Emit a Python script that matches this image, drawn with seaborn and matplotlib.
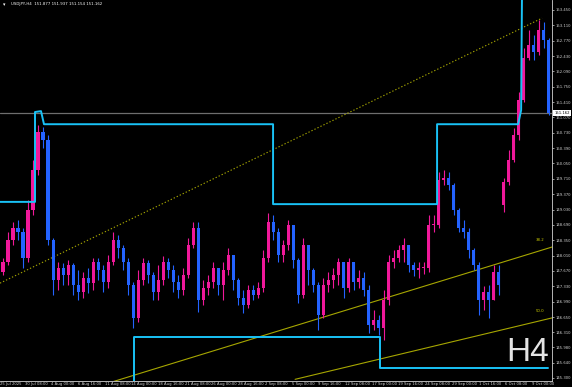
import matplotlib
matplotlib.use("Agg")
import matplotlib.pyplot as plt
import seaborn as sns
import numpy as np

# ---------------- data (USDJPY, H4 chart, aggregated candles) ----------------
closes = [147.87, 148.36, 148.62, 148.53, 147.96, 149.02, 149.91, 150.75, 150.57, 148.36,
          147.47, 147.74, 147.58, 147.80, 147.36, 147.20, 147.51, 147.40, 147.87, 147.69,
          147.43, 147.87, 148.36, 148.18, 147.87, 147.36, 146.63, 147.47, 147.85, 147.58,
          147.20, 147.47, 147.87, 147.69, 147.43, 147.25, 147.58, 148.25, 148.62, 147.03,
          147.29, 147.43, 147.74, 147.36, 147.69, 148.02, 147.47, 147.07, 146.92, 147.25,
          147.14, 147.29, 147.96, 148.75, 148.53, 148.02, 148.25, 148.69, 147.91, 147.14,
          148.25, 147.69, 147.36, 146.69, 147.36, 147.47, 147.58, 147.87, 147.29, 147.87,
          147.43, 147.51, 147.25, 146.47, 146.58, 146.41, 147.03, 147.87, 147.96, 148.13,
          148.25, 147.80, 147.69, 147.74, 147.74, 148.69, 148.69, 149.68, 149.73, 149.57,
          149.02, 148.62, 148.53, 148.13, 147.80, 147.03, 147.20, 147.03, 147.65, 147.36,
          149.64, 150.13, 150.68, 151.46, 152.39, 152.67, 152.52, 153.01, 152.79, 151.162]
highs = [147.96, 148.53, 148.75, 148.80, 148.62, 149.24, 150.13, 150.90, 150.86, 150.68,
         148.40, 147.87, 147.85, 147.91, 147.85, 147.69, 147.65, 147.74, 147.96, 147.96,
         147.80, 148.02, 148.53, 148.47, 148.25, 147.96, 147.43, 147.69, 147.96, 147.91,
         147.65, 147.80, 148.00, 147.96, 147.80, 147.58, 147.74, 148.40, 148.75, 148.75,
         147.47, 147.58, 147.87, 147.69, 147.87, 148.18, 148.02, 147.51, 147.25, 147.36,
         147.36, 147.43, 148.13, 148.95, 148.91, 148.62, 148.36, 148.80, 148.69, 147.96,
         148.40, 148.25, 147.74, 147.43, 147.51, 147.65, 147.74, 147.96, 147.87, 147.96,
         147.80, 147.69, 147.65, 147.36, 146.81, 146.69, 147.25, 148.02, 148.13, 148.25,
         148.40, 148.25, 147.87, 147.87, 147.87, 148.91, 148.91, 149.86, 149.91, 149.86,
         149.62, 149.06, 148.80, 148.62, 148.18, 147.87, 147.34, 147.36, 147.80, 147.80,
         149.73, 150.35, 150.84, 151.63, 152.61, 153.01, 152.90, 153.23, 153.18, 152.83]
lows = [147.58, 147.80, 148.25, 148.36, 147.74, 147.87, 148.91, 149.80, 150.39, 148.25,
        147.14, 147.25, 147.36, 147.36, 147.14, 147.03, 147.07, 147.18, 147.25, 147.47,
        147.20, 147.29, 147.80, 147.96, 147.69, 147.14, 146.41, 146.54, 147.36, 147.40,
        147.03, 147.03, 147.36, 147.51, 147.20, 147.07, 147.14, 147.51, 148.18, 146.76,
        146.92, 147.14, 147.29, 147.14, 147.03, 147.58, 147.25, 146.92, 146.74, 146.85,
        147.03, 147.07, 147.20, 147.87, 148.36, 147.87, 147.87, 148.13, 147.74, 146.96,
        147.07, 147.36, 147.20, 146.36, 146.63, 147.20, 147.29, 147.36, 147.07, 147.20,
        147.25, 147.29, 147.12, 146.30, 146.36, 146.25, 146.14, 146.92, 147.74, 147.87,
        147.87, 147.65, 147.56, 147.51, 147.60, 147.65, 148.53, 148.62, 149.57, 149.46,
        148.91, 148.53, 148.40, 147.96, 147.69, 146.69, 146.81, 146.63, 147.03, 147.14,
        148.98, 149.57, 150.08, 150.57, 151.41, 152.34, 152.34, 152.45, 152.61, 151.12]
first_open = 147.65
gap_open = 149.13      # first bar after the weekend gap (6 Oct)
gap_index = 100

# channel (step) lines, x in H4-bar units (0 = 30 Jul 08:00)
upper_x = [-13.78, 7.19, 7.19, 10.78, 12.58, 149.8, 149.8, 248.05, 248.05, 296.6, 298.4, 299.0]
upper_y = [149.20, 149.20, 151.19, 151.21, 150.92, 150.92, 149.15, 149.15, 150.92, 150.92, 151.23, 154.2]
lower_x = [66.5, 66.5, 213.9, 213.9, 314.6]
lower_y = [144.8, 146.21, 146.21, 145.52, 145.52]

# fibonacci lines
fib_dot_x = [-13.78, 310.97]
fib_dot_y = [147.40, 153.27]
fib382_x = [46.1, 316.9]
fib382_y = [145.13, 148.20]
fib500_x = [163.0, 316.9]
fib500_y = [145.27, 146.63]
fib_labels = ["38.2", "50.0"]
fib_label_x = [309.8, 309.8]
fib_label_y = [148.31, 146.74]

bid = 151.162
title = "USDJPY,H4  151.877 151.937 151.154 151.162"

price_ticks = [145.300, 145.640, 145.980, 146.310, 146.650, 146.990, 147.330, 147.670,
               148.010, 148.350, 148.690, 149.030, 149.370, 149.710, 150.050, 150.390,
               150.730, 151.070, 151.410, 151.750, 152.090, 152.430, 152.770, 153.110, 153.450]
time_labels = ["25 Jul 2025", "30 Jul 08:00", "4 Aug 00:00", "6 Aug 16:00", "11 Aug 08:00",
               "14 Aug 00:00", "18 Aug 16:00", "21 Aug 08:00", "26 Aug 00:00", "28 Aug 16:00",
               "2 Sep 08:00", "5 Sep 00:00", "9 Sep 16:00", "12 Sep 08:00", "17 Sep 00:00",
               "19 Sep 16:00", "24 Sep 08:00", "29 Sep 00:00", "1 Oct 16:00", "6 Oct 08:00",
               "9 Oct 00:00"]
time_ticks = [-16 + 16 * k for k in range(len(time_labels))]

# ---------------- styling ----------------
sns.set_theme(style="dark", rc={"axes.facecolor": "black", "figure.facecolor": "black",
                                "axes.grid": False})
plt.rcParams["font.family"] = ["DejaVu Sans"]

UP = "#f0189a"
DOWN = "#2463ff"
CYAN = "#19c2f6"
OLIVE = "#a6a600"
AXC = "#d2d2d2"

fig = plt.figure(figsize=(5.72, 3.87), dpi=100)
ax = fig.add_axes([0, 6 / 387, 552 / 572, 381 / 387])
ax.set_facecolor("black")

n = len(closes)
xs = np.array([-12 + 3 * i for i in range(n)], dtype=float)
opens = [first_open] + closes[:-1]
opens[gap_index] = gap_open
o = np.array(opens); c = np.array(closes)
h = np.maximum(np.array(highs), np.maximum(o, c))
l = np.minimum(np.array(lows), np.minimum(o, c))
cols = [UP if cc >= oo else DOWN for oo, cc in zip(o, c)]

ax.vlines(xs, l, h, colors=cols, lw=0.8, zorder=3)
ax.bar(xs, np.maximum(np.abs(c - o), 0.015), bottom=np.minimum(o, c), width=1.85,
       color=cols, linewidth=0, zorder=3)

# bid line
ax.axhline(bid, color="#6e6e6e", lw=0.9, zorder=2)

# fibonacci lines
sns.lineplot(x=fib_dot_x, y=fib_dot_y, ax=ax, color=OLIVE, lw=0.8,
             linestyle=(0, (1.2, 1.8)), estimator=None, sort=False, zorder=2)
sns.lineplot(x=fib382_x, y=fib382_y, ax=ax, color=OLIVE, lw=0.8, estimator=None, sort=False, zorder=2)
sns.lineplot(x=fib500_x, y=fib500_y, ax=ax, color=OLIVE, lw=0.8, estimator=None, sort=False, zorder=2)
for t, fx, fy in zip(fib_labels, fib_label_x, fib_label_y):
    ax.text(fx, fy, t, color="#c8c800", fontsize=2.8, ha="center", va="bottom", zorder=5)

# channel lines
sns.lineplot(x=upper_x, y=upper_y, ax=ax, color=CYAN, lw=1.4, estimator=None, sort=False, zorder=4)
sns.lineplot(x=lower_x, y=lower_y, ax=ax, color=CYAN, lw=1.4, estimator=None, sort=False, zorder=4)

ax.set_xlim(-13.78, 316.9)
ax.set_ylim(145.233, 153.671)

# axes
for s in ["top", "left"]:
    ax.spines[s].set_visible(False)
for s in ["right", "bottom"]:
    ax.spines[s].set_visible(True)
    ax.spines[s].set_color(AXC)
    ax.spines[s].set_linewidth(0.6)

ax.yaxis.tick_right()
ax.set_yticks(price_ticks, [f"{v:.3f}" for v in price_ticks])
ax.tick_params(axis="y", colors=AXC, labelsize=2.7, length=1.6, width=0.5, pad=1.0,
               left=False, right=True, labelleft=False, labelright=True)
ax.set_xticks([t for t in time_ticks if t >= -13.78])
ax.tick_params(axis="x", colors=AXC, length=1.8, width=0.5, labelbottom=False)
for t, lab in zip(time_ticks, time_labels):
    ax.text(max(t + 0.9, -13.6), -0.0075, lab, transform=ax.get_xaxis_transform(), color=AXC,
            fontsize=2.7, ha="left", va="center", clip_on=False)
ax.set_xlabel(""); ax.set_ylabel("")

# price box
ax.text(1.004, bid, f"{bid:.3f}", transform=ax.get_yaxis_transform(), color="black",
        fontsize=2.7, ha="left", va="center", zorder=10, clip_on=False,
        bbox=dict(boxstyle="square,pad=0.3", fc="white", ec="none"))

# title and timeframe watermark
fig.text(3 / 572, 1 - 4.5 / 387, "\u25BE", color="white", fontsize=3.5, ha="left", va="center")
fig.text(11 / 572, 1 - 4.5 / 387, title, color="white", fontsize=2.8, ha="left", va="center")
ax.text(0.918, 20 / 381, "H4", transform=ax.transAxes, fontsize=24, color="#e4e4e4",
        family=["Liberation Sans", "DejaVu Sans"], ha="left", va="baseline", zorder=6)

fig.savefig("out.png", dpi=100, facecolor="black")
